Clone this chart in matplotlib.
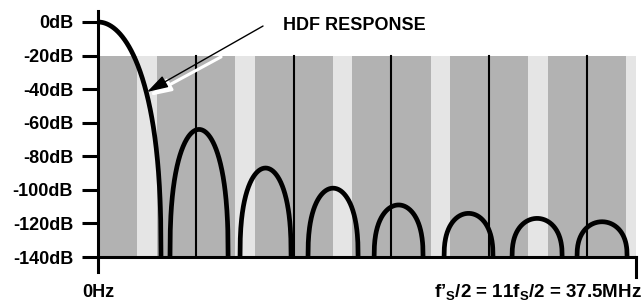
import matplotlib
matplotlib.use("Agg")
import matplotlib.pyplot as plt
import numpy as np

plt.rcParams['font.family'] = ['Liberation Sans', 'DejaVu Sans']
plt.rcParams['font.weight'] = 'bold'
plt.rcParams['mathtext.fontset'] = 'custom'
plt.rcParams['mathtext.rm'] = 'Liberation Sans:bold'
plt.rcParams['mathtext.it'] = 'Liberation Sans:bold'
plt.rcParams['mathtext.bf'] = 'Liberation Sans:bold'

# y axis ticks (dB)
ytick_vals = [0, -20, -40, -60, -80, -100, -120, -140]
ytick_labels = ['0dB', '-20dB', '-40dB', '-60dB', '-80dB', '-100dB', '-120dB', '-140dB']

# HDF response lobes, x in units of fs (0 .. 5.5 = f's/2)
lobe_center = [0.0, 1.033, 1.713, 2.403, 3.073, 3.788, 4.489, 5.153]
lobe_halfwidth = [0.644, 0.297, 0.261, 0.256, 0.25, 0.25, 0.256, 0.256]
lobe_peak_db = [0, -64, -87, -99, -109, -114, -117, -119]

# image bands: light bands centred on odd multiples of fs/2, lines at multiples of fs
band_centers = [0.5, 1.5, 2.5, 3.5, 4.5, 5.5]
fs_lines = [1, 2, 3, 4, 5]

floor_db = -140
shade_top = -20
x_max = 5.5
fsize = 13

fig = plt.figure(figsize=(6.44, 3.05), dpi=100)
ax = fig.add_axes([98 / 644, 48 / 305, 538 / 644, 235 / 305])
ax.set_xlim(0, x_max)
ax.set_ylim(floor_db, 0)
for s in ax.spines.values():
    s.set_visible(False)

# shaded region
ax.fill_between([0, x_max], floor_db, shade_top, color='#b2b2b2', lw=0, zorder=0)
for c in band_centers:
    ax.fill_between([c - 0.1, min(c + 0.1, x_max)], floor_db, shade_top,
                    color='#e5e5e5', lw=0, zorder=0.5)
for xl in fs_lines:
    ax.plot([xl, xl], [floor_db, shade_top], color='black', lw=1.5, zorder=1)

# response curve: each lobe as an arch from the floor up to its peak
for c, hw, pk in zip(lobe_center, lobe_halfwidth, lobe_peak_db):
    x = np.linspace(max(c - hw, 0), c + hw, 200)
    u = np.clip((x - c) / hw, -1, 1)
    y = floor_db + (pk - floor_db) * (1 - u ** 2) ** 0.4
    ax.plot(x, y, color='black', lw=3.4, solid_capstyle='butt', clip_on=False, zorder=3)

# axes lines
ax.plot([0, 0], [6.5, -149], color='black', lw=2.2, clip_on=False, zorder=4)
ax.plot([0, x_max], [floor_db, floor_db], color='black', lw=2.2, clip_on=False, zorder=4)
ax.plot([x_max, x_max], [floor_db, -152], color='black', lw=2.2, clip_on=False, zorder=4)

ax.set_xticks([])
ax.set_yticks(ytick_vals)
ax.set_yticklabels(ytick_labels, fontsize=fsize, fontweight='bold')
ax.tick_params(axis='y', length=11.5, width=2.2, pad=6.5, color='black')

ax.text(-0.164, -164, '0Hz', ha='left', va='baseline', fontsize=fsize, fontweight='bold')
ax.text(5.56, -164, "f\u2019$_{\\mathrm{S}}$/2 = 11f$_{\\mathrm{S}}$/2 = 37.5MHz",
        ha='right', va='baseline', fontsize=fsize + 0.5, fontweight='bold')

# annotation arrow with white shadow
ax.annotate('', xy=(0.52, -44.1), xytext=(1.258, -20.8),
            arrowprops=dict(arrowstyle='-|>,head_length=1.0,head_width=0.3', mutation_scale=13,
                            color='white', lw=2.2, shrinkA=0, shrinkB=0), zorder=5)
ax.annotate('', xy=(0.501, -41.7), xytext=(1.687, -2.4),
            arrowprops=dict(arrowstyle='-|>,head_length=1.0,head_width=0.3', mutation_scale=13,
                            color='black', lw=1.0, shrinkA=0, shrinkB=0), zorder=6)
ax.text(1.892, -1.8, 'HDF RESPONSE', ha='left', va='center', fontsize=fsize, fontweight='bold')

fig.savefig('out.png', dpi=100)
